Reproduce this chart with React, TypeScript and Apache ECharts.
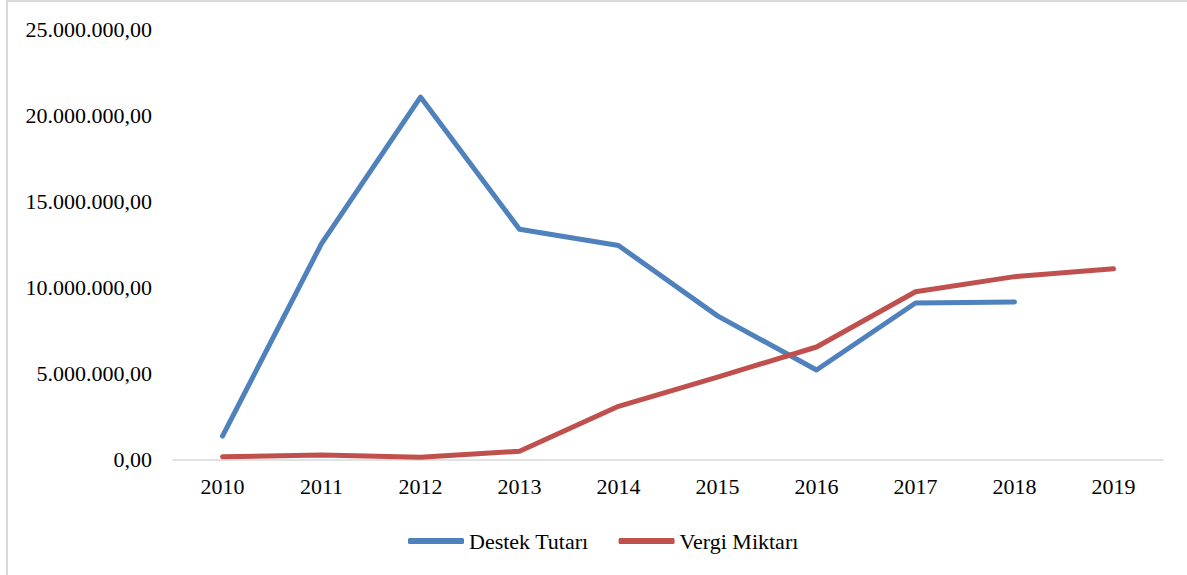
import React, { useEffect, useRef } from "react";
import * as echarts from "echarts";

const years = ["2010", "2011", "2012", "2013", "2014", "2015", "2016", "2017", "2018", "2019"];
const destekTutari = [1350000, 12540000, 21060000, 13370000, 12430000, 8340000, 5190000, 9090000, 9150000, null];
const vergiMiktari = [150000, 250000, 120000, 470000, 3080000, 4780000, 6530000, 9740000, 10620000, 11080000];
const seriesNames = ["Destek Tutarı", "Vergi Miktarı"];
const colors = ["#4f81bd", "#c0504d"];

const FONT = "Liberation Serif";

function formatTR(v: number): string {
  const s = Math.round(v).toString().replace(/\B(?=(\d{3})+(?!\d))/g, ".");
  return s + ",00";
}

export default function App() {
  const ref = useRef<HTMLDivElement>(null);
  useEffect(() => {
    if (!ref.current) return;
    const chart = echarts.init(ref.current, null, { renderer: "svg" });
    chart.setOption({
      animation: false,
      backgroundColor: "#ffffff",
      textStyle: { fontFamily: FONT },
      graphic: [
        { type: "line", shape: { x1: 7, y1: 1, x2: 1187, y2: 1 }, style: { stroke: "#d9d9d9", lineWidth: 2 } },
        { type: "line", shape: { x1: 7, y1: 0, x2: 7, y2: 575 }, style: { stroke: "#d9d9d9", lineWidth: 2 } },
      ],
      grid: { left: 173, right: 24, top: 29.3, bottom: 115.7, containLabel: false },
      legend: {
        left: 403,
        top: 525,
        itemWidth: 56,
        itemHeight: 6,
        itemGap: 30,
        icon: "roundRect",
        textStyle: { fontFamily: FONT, fontSize: 22, color: "#000000" },
        data: seriesNames,
      },
      xAxis: {
        type: "category",
        data: years,
        boundaryGap: true,
        axisLine: { show: true, lineStyle: { color: "#d9d9d9", width: 1.5 } },
        axisTick: { show: false },
        axisLabel: { fontFamily: FONT, fontSize: 22, color: "#000000", margin: 16 },
      },
      yAxis: {
        type: "value",
        min: 0,
        max: 25000000,
        interval: 5000000,
        axisLine: { show: false },
        axisTick: { show: false },
        splitLine: { show: false },
        axisLabel: {
          fontFamily: FONT,
          fontSize: 22,
          color: "#000000",
          margin: 21,
          formatter: (v: number) => formatTR(v),
        },
      },
      series: [
        {
          name: seriesNames[0],
          type: "line",
          data: destekTutari,
          symbol: "none",
          color: colors[0],
          lineStyle: { width: 5, color: colors[0], cap: "round", join: "round" },
        },
        {
          name: seriesNames[1],
          type: "line",
          data: vergiMiktari,
          symbol: "none",
          color: colors[1],
          lineStyle: { width: 5, color: colors[1], cap: "round", join: "round" },
        },
      ],
    });
    return () => chart.dispose();
  }, []);
  return (
    <div
      ref={ref}
      style={{ position: "absolute", left: 0, top: 0, width: 1187, height: 575 }}
    />
  );
}
